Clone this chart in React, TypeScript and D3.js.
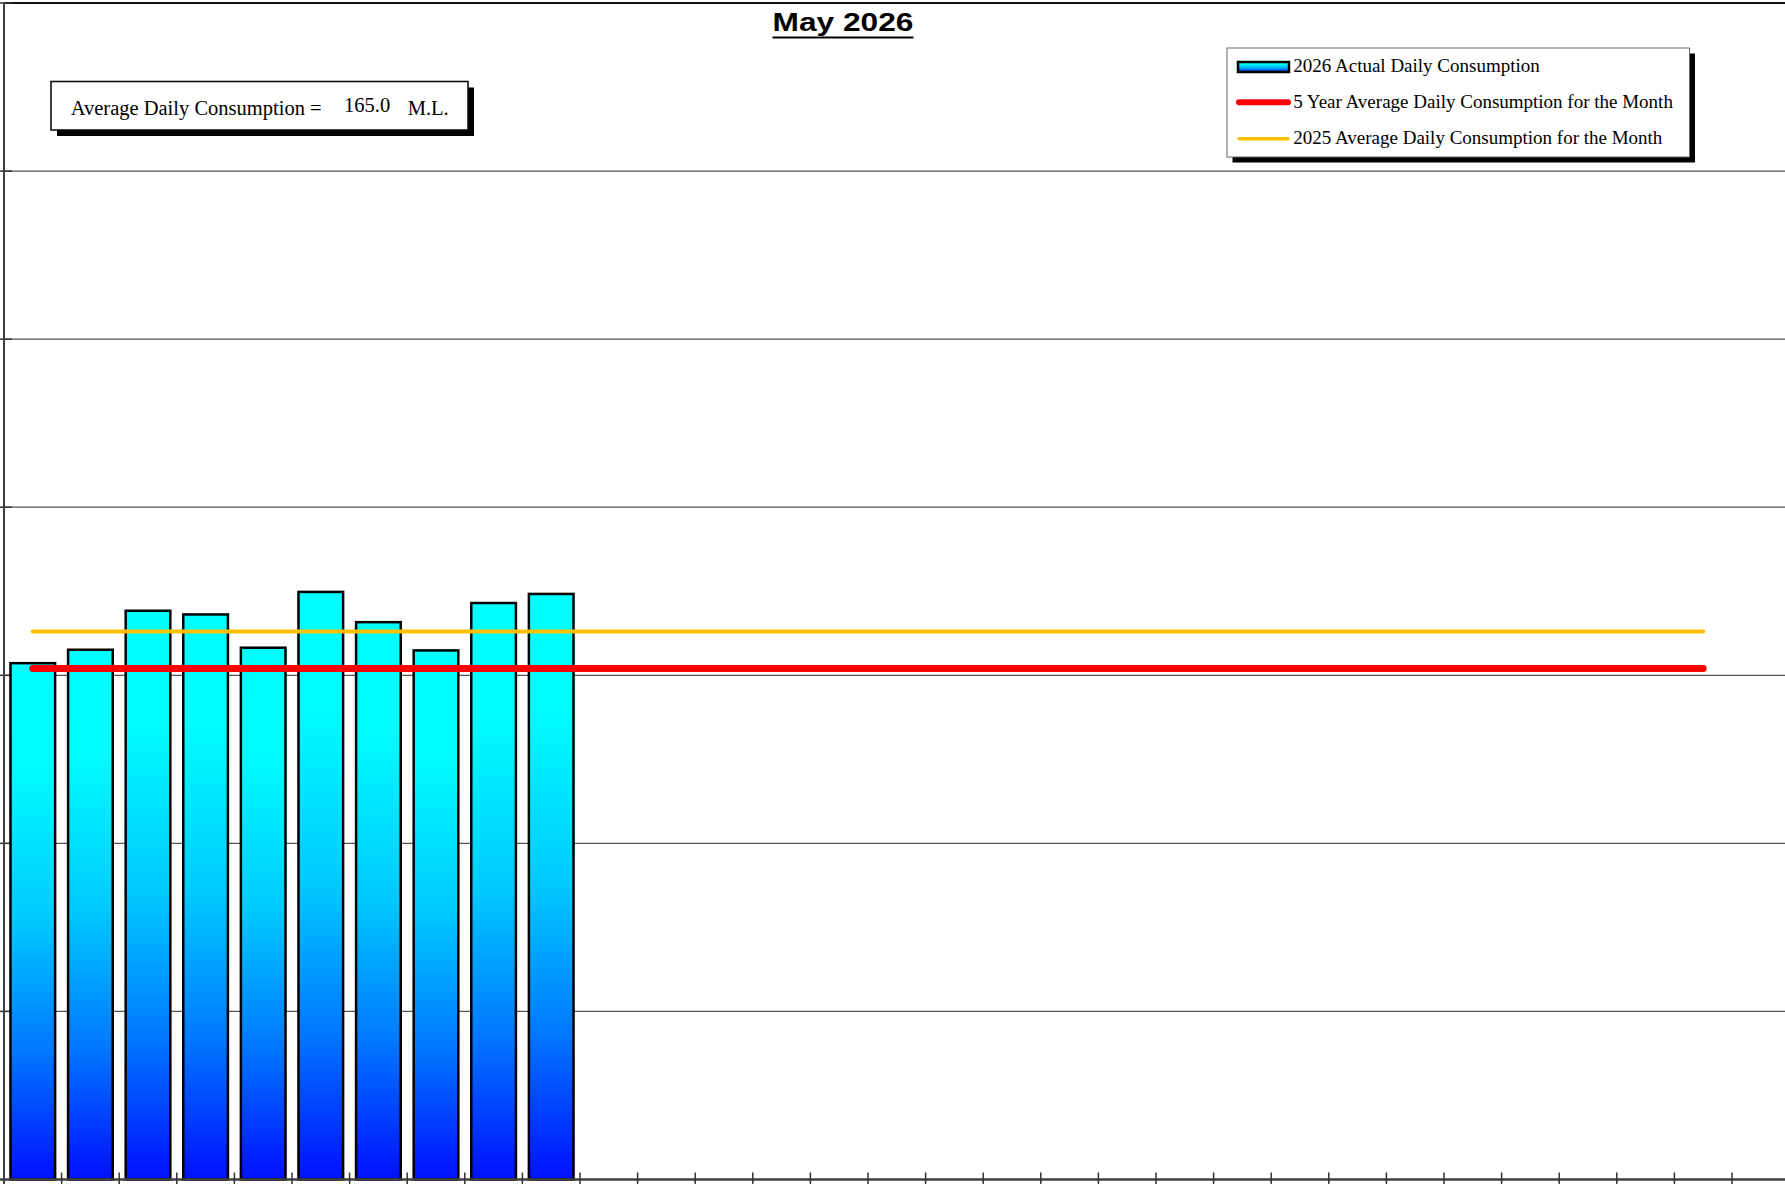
import * as React from "react";
import * as d3 from "d3";

// daily consumption (M.L.) for May 2026, days 1..10 reported so far
const days = d3.range(1, 32).map(String);
const actual2026 = [153.6, 157.6, 169.2, 168.1, 158.2, 174.8, 165.8, 157.4, 171.5, 174.2];
const fiveYearAvg = 152.0;
const lastYearAvg = 163.0;
const lineDays = ["1", "30"];
const yTicks = [50, 100, 150, 200, 250, 300, 350];
const yMax = 350;

const title = "May 2026";
const avgLabel = "Average Daily Consumption =";
const avgUnit = "M.L.";
const legendLabels = [
    "2026 Actual Daily Consumption",
    "5 Year Average Daily Consumption for the Month",
    "2025 Average Daily Consumption for the Month",
];

const W = 1785;
const H = 1184;
const plot = { left: 4, right: 1789.6, top: 3, bottom: 1179.5 };

export default function App() {
    const xCat = d3.scaleBand<string>().domain(days).range([plot.left, plot.right]).padding(0);
    const xBar = d3.scaleBand<string>().domain(days).range([plot.left, plot.right])
        .paddingInner(0.225).paddingOuter(0.1125);
    const y = d3.scaleLinear().domain([0, yMax]).range([plot.bottom, plot.top]);

    const avg = d3.mean(actual2026) || 0;

    const hLine = (v: number) => d3.line<string>()
        .x(d => (xCat(d) || 0) + xCat.bandwidth() / 2)
        .y(() => y(v))(lineDays) || "";

    const serif = "'Liberation Serif', 'Times New Roman', serif";

    return <svg width={W} height={H} style={{ position: "absolute", left: 0, top: 0, display: "block", background: "#fff" }}>
        <defs>
            <linearGradient id="barFill" x1="0" y1="0" x2="0" y2="1">
                <stop offset="0" stopColor="#00ffff" />
                <stop offset="0.2" stopColor="#00fcff" />
                <stop offset="0.5" stopColor="#00c8ff" />
                <stop offset="0.75" stopColor="#0078ff" />
                <stop offset="1" stopColor="#0010ff" />
            </linearGradient>
        </defs>

        {/* grid */}
        {yTicks.map(t => <line key={t} x1={plot.left} x2={W} y1={y(t)} y2={y(t)}
            stroke={t === yMax ? "#111" : "#555"} strokeWidth={t === yMax ? 2 : 1.2} />)}
        {yTicks.map(t => <line key={"lt" + t} x1={0} x2={12} y1={y(t)} y2={y(t)} stroke="#333" strokeWidth={1.5} />)}

        {/* bars */}
        {actual2026.map((v, i) => <rect key={i}
            x={xBar(days[i])} y={y(v)} width={xBar.bandwidth()} height={y(0) - y(v)}
            fill="url(#barFill)" stroke="#000" strokeWidth={2.5} />)}

        {/* average lines */}
        <path d={hLine(lastYearAvg)} stroke="#ffc000" strokeWidth={4} strokeLinecap="round" fill="none" />
        <path d={hLine(fiveYearAvg)} stroke="#ff0000" strokeWidth={7} strokeLinecap="round" fill="none" />

        {/* axes */}
        <line x1={plot.left} x2={plot.left} y1={plot.top} y2={H} stroke="#404040" strokeWidth={2} />
        <line x1={0} x2={W} y1={plot.bottom} y2={plot.bottom} stroke="#404040" strokeWidth={2.5} />
        {days.map(d => <line key={"xt" + d} x1={(xCat(d) || 0) + xCat.bandwidth()} x2={(xCat(d) || 0) + xCat.bandwidth()}
            y1={plot.bottom - 7} y2={H} stroke="#333" strokeWidth={1.5} />)}

        {/* title */}
        <text x={843} y={30.5} textAnchor="middle" fontFamily="'Liberation Sans', Arial, sans-serif"
            fontWeight="bold" fontSize={26} textLength={141} lengthAdjust="spacingAndGlyphs">{title}</text>
        <line x1={772.5} x2={913.5} y1={37.5} y2={37.5} stroke="#000" strokeWidth={2} />

        {/* average box */}
        <rect x={57} y={87.5} width={417} height={48.5} fill="#000" />
        <rect x={51} y={81.5} width={417} height={48.5} fill="#fff" stroke="#111" strokeWidth={1.6} />
        <text x={70.7} y={115} fontFamily={serif} fontSize={20.5}>{avgLabel}</text>
        <text x={344} y={112.3} fontFamily={serif} fontSize={20.5}>{avg.toFixed(1)}</text>
        <text x={407.7} y={115} fontFamily={serif} fontSize={20.5}>{avgUnit}</text>

        {/* legend */}
        <rect x={1232.5} y={53.5} width={462.5} height={109} fill="#000" />
        <rect x={1227} y={48} width={462.5} height={109} fill="#fff" stroke="#666" strokeWidth={1} />
        <rect x={1238} y={62} width={51} height={10} fill="url(#barFill)" stroke="#000" strokeWidth={2.5} />
        <line x1={1239} x2={1288} y1={102.3} y2={102.3} stroke="#ff0000" strokeWidth={6} strokeLinecap="round" />
        <line x1={1239} x2={1288} y1={138.7} y2={138.7} stroke="#ffc000" strokeWidth={3.5} strokeLinecap="round" />
        {legendLabels.map((l, i) => <text key={l} x={1293.3} y={72 + i * 36.2} fontFamily={serif} fontSize={19}>{l}</text>)}
    </svg>;
}
